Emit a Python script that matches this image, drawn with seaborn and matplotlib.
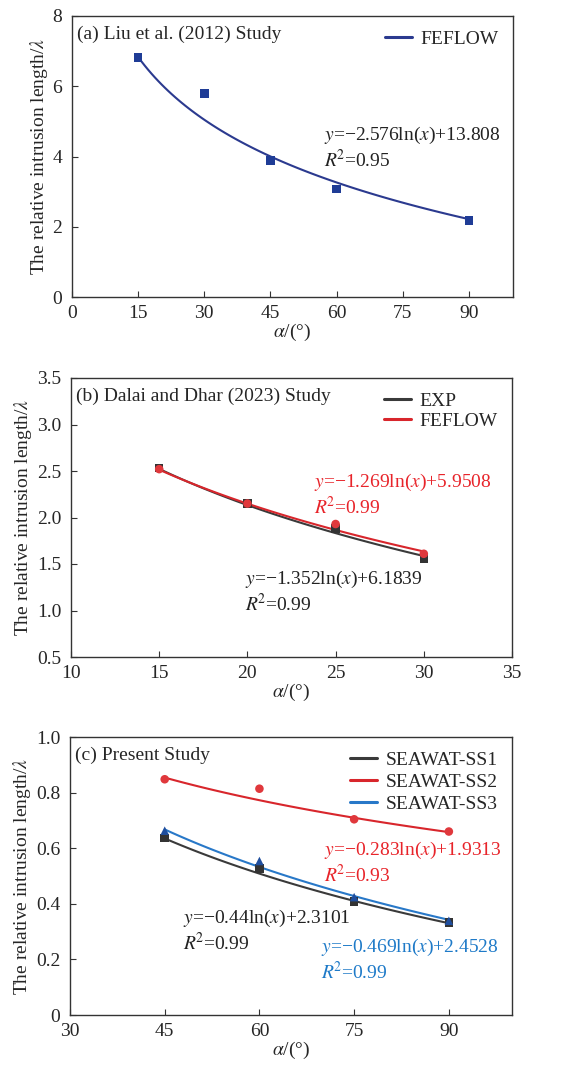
import numpy as np
import matplotlib
matplotlib.use("Agg")
import matplotlib.pyplot as plt
import seaborn as sns

sns.set_theme(style="ticks")
plt.rcParams["font.family"] = ["Liberation Serif", "DejaVu Serif"]
plt.rcParams["mathtext.fontset"] = "stix"
plt.rcParams["xtick.direction"] = "in"
plt.rcParams["ytick.direction"] = "in"

# (a) Liu et al. (2012)
a_angle = [15, 30, 45, 60, 90]
a_feflow = [6.82, 5.80, 3.88, 3.08, 2.18]
a_fit = (-2.576, 13.808)

# (b) Dalai and Dhar (2023)
b_angle = [15, 20, 25, 30]
b_exp = [2.53, 2.15, 1.88, 1.56]
b_feflow = [2.52, 2.15, 1.93, 1.61]
b_fit_exp = (-1.352, 6.1839)
b_fit_feflow = (-1.269, 5.9508)

# (c) Present study
c_angle = [45, 60, 75, 90]
c_ss1 = [0.636, 0.526, 0.408, 0.332]
c_ss2 = [0.848, 0.814, 0.704, 0.660]
c_ss3 = [0.663, 0.554, 0.424, 0.339]
c_fit_ss1 = (-0.44, 2.3101)
c_fit_ss2 = (-0.283, 1.9313)
c_fit_ss3 = (-0.469, 2.4528)

NAVY = "#2B3A8F"
NAVY_M = "#1F3C96"
DARK = "#3A3A3A"
RED = "#D8262C"
RED_T = "#E8242A"
BLUE = "#2878C8"
BLUE_M = "#1F4E9E"

FS = 14

fig = plt.figure(figsize=(5.81, 10.66), dpi=100)
W, H = 581, 1066


def add_axes(left, top, right, bottom):
    return fig.add_axes([left / W, 1 - bottom / H, (right - left) / W, (bottom - top) / H])


def log_curve(x, coef):
    xs = np.linspace(min(x), max(x), 100)
    return xs, coef[0] * np.log(xs) + coef[1]


def draw_series(ax, x, y, coef, label, line_color, marker_color, marker):
    xs, ys = log_curve(x, coef)
    sns.lineplot(x=xs, y=ys, ax=ax, color=line_color, lw=1.5, label=label)
    sns.scatterplot(x=x, y=y, ax=ax, color=marker_color, marker=marker,
                    s=38, edgecolor="none", zorder=3)


def style_axes(ax, xlim, xticks, ylim, yticks, yfmt):
    ax.set_xlim(*xlim)
    ax.set_ylim(*ylim)
    ax.set_xticks(xticks)
    ax.set_xticklabels([f"{v:g}" for v in xticks], fontsize=FS)
    ax.set_yticks(yticks)
    ax.set_yticklabels([yfmt(v) for v in yticks], fontsize=FS)
    ax.tick_params(length=4, width=0.8, color="#333333")
    ax.tick_params(axis="x", pad=6)
    ax.tick_params(axis="y", pad=7)
    for s in ax.spines.values():
        s.set_color("#333333")
        s.set_linewidth(1.0)
    ax.set_xlabel(r"$\alpha$/(°)", fontsize=FS, labelpad=0)
    ax.set_ylabel(r"The relative intrusion length/$\lambda$", fontsize=FS, labelpad=2)


def legend(ax, spacing=0.1):
    leg = ax.legend(loc="upper right", frameon=False, fontsize=FS,
                    handlelength=1.35, handletextpad=0.45, labelspacing=spacing,
                    borderaxespad=0.35)
    for h in leg.get_lines():
        h.set_linewidth(2.2)


def eq_text(px, py, coef, r2, color):
    b, c = coef
    fig.text(px / W, 1 - py / H, rf"$y$=−{abs(b):g}ln($x$)+{c:g}",
             fontsize=FS, color=color, va="center", ha="left")
    fig.text(px / W, 1 - (py + 25) / H, rf"$R$$^2$=" + r2,
             fontsize=FS, color=color, va="center", ha="left")


def panel_title(ax, text):
    ax.text(0.012, 0.935, text, transform=ax.transAxes,
            fontsize=FS, va="center", ha="left")


# panel (a)
ax1 = add_axes(72, 16, 513, 297)
draw_series(ax1, a_angle, a_feflow, a_fit, "FEFLOW", NAVY, NAVY_M, "s")
style_axes(ax1, (0, 100), [0, 15, 30, 45, 60, 75, 90],
           (0, 8), [0, 2, 4, 6, 8], lambda v: f"{v:g}")
legend(ax1)
panel_title(ax1, "(a) Liu et al. (2012) Study")
eq_text(324, 135, a_fit, "0.95", "#222222")

# panel (b)
ax2 = add_axes(71, 378, 512, 657)
draw_series(ax2, b_angle, b_exp, b_fit_exp, "EXP", DARK, "#333333", "s")
draw_series(ax2, b_angle, b_feflow, b_fit_feflow, "FEFLOW", RED, "#E0383C", "o")
style_axes(ax2, (10, 35), [10, 15, 20, 25, 30, 35],
           (0.5, 3.5), [0.5, 1.0, 1.5, 2.0, 2.5, 3.0, 3.5], lambda v: f"{v:.1f}")
legend(ax2)
panel_title(ax2, "(b) Dalai and Dhar (2023) Study")
eq_text(314, 482, b_fit_feflow, "0.99", RED_T)
eq_text(245, 579, b_fit_exp, "0.99", "#222222")

# panel (c)
ax3 = add_axes(70, 737, 512, 1015)
draw_series(ax3, c_angle, c_ss1, c_fit_ss1, "SEAWAT-SS1", DARK, "#333333", "s")
draw_series(ax3, c_angle, c_ss2, c_fit_ss2, "SEAWAT-SS2", RED, "#E0383C", "o")
draw_series(ax3, c_angle, c_ss3, c_fit_ss3, "SEAWAT-SS3", BLUE, BLUE_M, "^")
style_axes(ax3, (30, 100), [30, 45, 60, 75, 90],
           (0, 1.0), [0, 0.2, 0.4, 0.6, 0.8, 1.0],
           lambda v: "0" if v == 0 else f"{v:.1f}")
legend(ax3, spacing=0.22)
panel_title(ax3, "(c) Present Study")
eq_text(324, 850, c_fit_ss2, "0.93", RED_T)
eq_text(183, 918, c_fit_ss1, "0.99", "#222222")
eq_text(321, 947, c_fit_ss3, "0.99", "#1E7AC8")

fig.savefig("out.png", dpi=100, facecolor="white")
